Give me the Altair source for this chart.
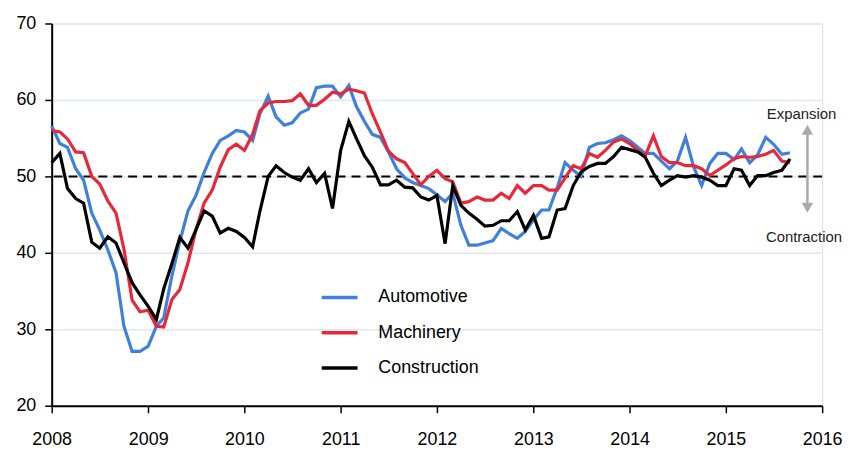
import altair as alt
import pandas as pd

# ---- data (monthly, Jan 2008 - Sep 2015) ----
automotive = [
    56.6, 54.3, 53.8, 51.0, 49.5, 45.2, 43.0, 40.4, 37.4, 30.4, 27.1, 27.1,
    27.8, 30.4, 31.5, 37.0, 41.5, 45.5, 47.5, 50.5, 53.0, 54.7, 55.3, 56.0,
    55.8, 54.7, 58.2, 60.5, 57.8, 56.7, 57.0, 58.3, 58.8, 61.6, 61.8, 61.8,
    60.4, 61.9, 59.2, 57.2, 55.5, 55.1, 53.2, 51.0, 49.8, 49.2, 48.8, 48.4,
    47.6, 46.7, 47.8, 43.6, 41.0, 41.0, 41.3, 41.6, 43.2, 42.5, 41.9, 42.8,
    44.3, 45.6, 45.6, 48.5, 51.8, 50.8, 50.0, 53.8, 54.3, 54.4, 54.8, 55.3,
    54.7, 53.8, 53.0, 53.0, 52.0, 51.0, 52.0, 55.1, 51.2, 48.8, 51.7, 53.0,
    53.0, 52.2, 53.6, 51.8, 52.8, 55.1, 54.2, 52.9, 53.1,
]
machinery = [
    56.0, 55.8, 54.9, 53.2, 53.1, 50.0, 49.0, 46.8, 45.2, 40.5, 33.8, 32.3,
    32.5, 30.4, 30.3, 33.9, 35.2, 38.7, 43.0, 46.5, 48.2, 51.2, 53.5, 54.2,
    53.4, 55.5, 58.6, 59.6, 59.8, 59.8, 59.9, 60.8, 59.3, 59.3, 60.1, 61.0,
    60.8, 61.4, 61.2, 60.9, 58.2, 55.8, 53.3, 52.3, 51.8, 50.4, 48.9, 50.0,
    50.8, 49.7, 49.3, 46.5, 46.7, 47.3, 46.9, 46.9, 47.8, 47.1, 48.8, 47.8,
    48.8, 48.8, 48.2, 48.2, 49.8, 51.4, 51.0, 53.0, 52.5, 53.4, 54.5, 54.9,
    54.3, 53.4, 52.7, 55.3, 52.6, 51.8, 51.8, 51.4, 51.4, 51.0, 50.1, 50.8,
    51.5, 52.3, 52.6, 52.5, 52.6, 52.9, 53.4, 52.0, 51.8,
]
construction = [
    51.8, 53.0, 48.4, 47.1, 46.5, 41.4, 40.6, 42.1, 41.3, 38.7, 36.1, 34.5,
    33.0, 31.3, 35.3, 38.6, 42.0, 40.6, 43.0, 45.5, 44.8, 42.6, 43.2, 42.8,
    42.0, 40.8, 45.5, 50.0, 51.4, 50.5, 49.9, 49.5, 51.0, 49.2, 50.4, 45.8,
    53.4, 57.2, 55.0, 52.7, 51.2, 48.9, 48.9, 49.5, 48.6, 48.5, 47.3, 46.9,
    47.5, 41.2, 48.8, 46.2, 45.2, 44.4, 43.5, 43.6, 44.2, 44.2, 45.4, 43.0,
    44.9, 41.9, 42.1, 45.6, 45.8, 48.8, 50.6, 51.3, 51.7, 51.7, 52.6, 53.8,
    53.5, 53.2, 52.5, 50.4, 48.8, 49.5, 50.1, 49.9, 50.1, 49.9, 49.5, 48.8,
    48.8, 51.0, 50.8, 48.8, 50.1, 50.1, 50.5, 50.8, 52.3,
]
series_names = ["Automotive", "Machinery", "Construction"]
series_colors = ["#3F80DA", "#E8283A", "#000000"]
start_month = "2008-01-01"
x_domain = ["2008-01-01", "2016-01-01"]
y_ticks = [20, 30, 40, 50, 60, 70]
threshold = 50

# annotation (double arrow)
arrow_date = ["2015-11-06"]
arrow_top = [56.1]
arrow_bottom = [45.9]
note_texts = ["Expansion", "Contraction"]
note_dates = ["2015-10-15", "2015-10-24"]
note_values = [58.2, 42.1]

dates = pd.date_range(start_month, periods=len(automotive), freq="MS")
frames = []
for name, vals in zip(series_names, [automotive, machinery, construction]):
    frames.append(pd.DataFrame({"date": dates, "value": vals, "series": name}))
df = pd.concat(frames, ignore_index=True)

FONT = "Liberation Sans"

x_enc = alt.X(
    "date:T",
    scale=alt.Scale(domain=x_domain),
    axis=alt.Axis(
        title=None, format="%Y", tickCount={"interval": "year", "step": 1},
        grid=False, labelFontSize=18, labelFont=FONT, labelColor="#000",
        domainColor="#000", domainWidth=2, tickColor="#000", tickSize=7,
        tickWidth=1.5, labelPadding=18, labelFlush=False, labelOverlap=False,
    ),
)
y_scale = alt.Scale(domain=[20, 70], nice=False, zero=False)
y_enc = alt.Y(
    "value:Q",
    scale=y_scale,
    axis=alt.Axis(
        title=None, values=y_ticks, grid=True, gridColor="#e2e6ef",
        gridWidth=1.5, labelFontSize=18, labelFont=FONT, labelColor="#000",
        domainColor="#000", domainWidth=2, tickColor="#000", tickSize=7,
        tickWidth=1.5, labelPadding=9,
    ),
)
color_enc = alt.Color(
    "series:N",
    scale=alt.Scale(domain=series_names, range=series_colors),
    legend=alt.Legend(
        title=None, orient="none", legendX=270, legendY=256,
        symbolType="stroke", symbolSize=1300, symbolStrokeWidth=3.5,
        labelFontSize=18, labelFont=FONT, labelColor="#000",
        labelOffset=19, rowPadding=6.5,
    ),
)

base = alt.Chart(df)
lines = [
    base.transform_filter(alt.datum.series == name)
    .mark_line(strokeWidth=3.2, strokeJoin="miter")
    .encode(x=x_enc, y=y_enc, color=color_enc)
    for name in series_names
]

thr = alt.Chart(pd.DataFrame({"value": [threshold]})).mark_rule(
    color="#000", strokeWidth=2, strokeDash=[9, 6]
).encode(y=alt.Y("value:Q", scale=y_scale))

arrow_df = pd.DataFrame({"date": pd.to_datetime(arrow_date), "top": arrow_top, "bottom": arrow_bottom})
arrow_line = alt.Chart(arrow_df).mark_rule(color="#aaaaaa", strokeWidth=2.5).encode(
    x="date:T", y=alt.Y("top:Q", scale=y_scale), y2="bottom:Q"
)
arrow_up = alt.Chart(arrow_df).mark_point(
    shape="triangle-up", filled=True, color="#aaaaaa", size=130, opacity=1
).encode(x="date:T", y=alt.Y("top:Q", scale=y_scale))
arrow_down = alt.Chart(arrow_df).mark_point(
    shape="triangle-down", filled=True, color="#aaaaaa", size=130, opacity=1
).encode(x="date:T", y=alt.Y("bottom:Q", scale=y_scale))

notes_df = pd.DataFrame({
    "date": pd.to_datetime(note_dates),
    "value": note_values,
    "text": note_texts,
})
notes = alt.Chart(notes_df).mark_text(
    font=FONT, fontSize=15, color="#222", align="center", baseline="middle"
).encode(x="date:T", y=alt.Y("value:Q", scale=y_scale), text="text:N")

chart = alt.layer(thr, *lines, arrow_line, arrow_up, arrow_down, notes).properties(
    width=776, height=385,
    autosize=alt.AutoSizeParams(type="none"),
    padding={"left": 44, "top": 14, "right": 22, "bottom": 46},
).configure_view(stroke=None).configure(background="white")

chart.save("out.html", embed_options={"renderer": "svg", "actions": False})
